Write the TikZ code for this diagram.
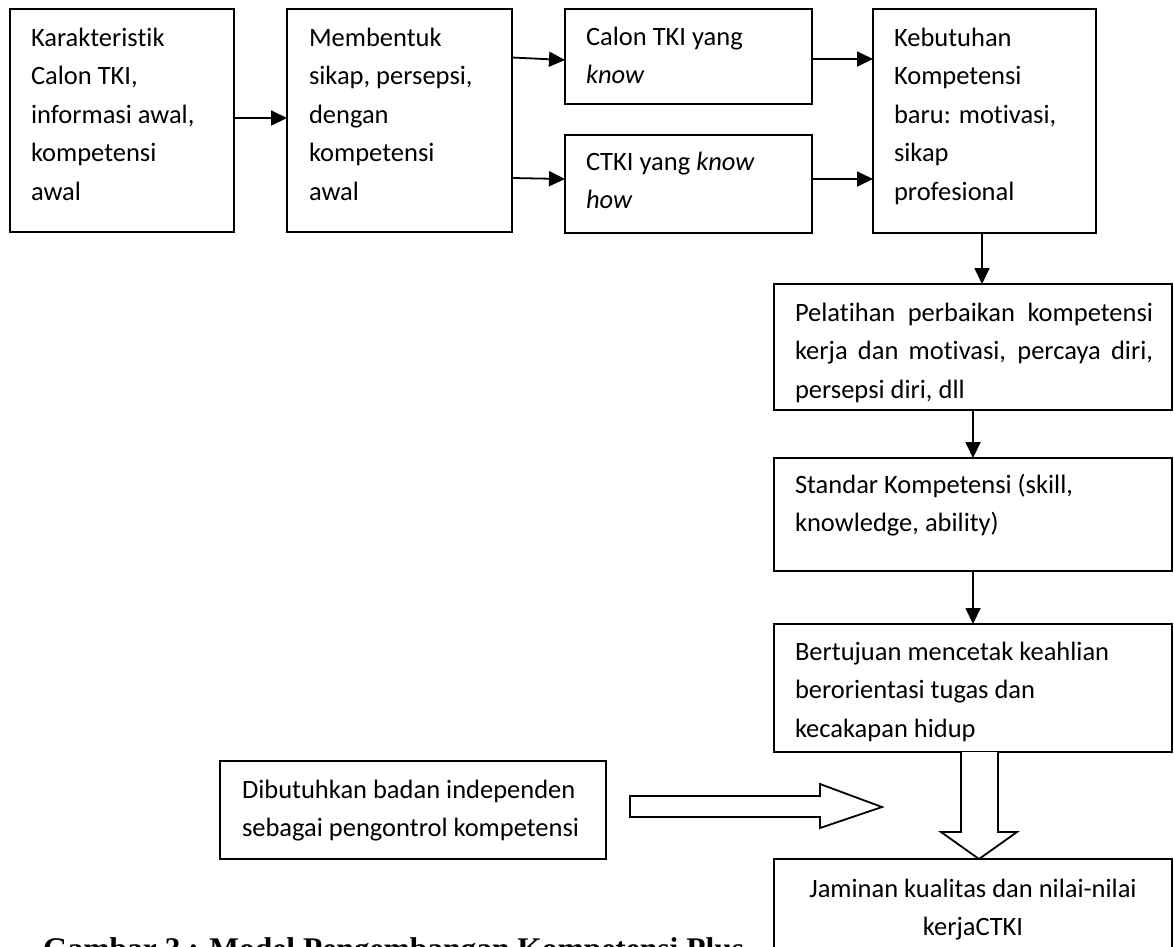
\documentclass[tikz,border=0pt]{standalone}
\usepackage{fontspec}
\setmainfont{Carlito}[Ligatures=NoCommon]
\newfontfamily\capfont{Liberation Serif}
\usetikzlibrary{arrows.meta,calc}
\begin{document}
\begin{tikzpicture}[x=1pt,y=-1pt,
  box/.style={draw, line width=1.8pt, anchor=north west, inner sep=0pt, outer sep=0pt},
  txt/.style={anchor=base west, inner sep=0pt, outer sep=0pt, align=left,
    font=\fontsize{26.5}{38.5}\selectfont},
  arr/.style={line width=1.8pt, -{Triangle[length=16pt,width=15pt]}},
  blk/.style={draw, line width=1.8pt, line join=miter, fill=white}]
\useasboundingbox (0,0) rectangle (1174,946);
\clip (0,0) rectangle (1174,946);
% boxes
\node[box, minimum width=224pt, minimum height=223pt] (b1) at (10,9) {};
\node[box, minimum width=225pt, minimum height=223pt] (b2) at (287,9) {};
\node[box, minimum width=247pt, minimum height=95pt]  (b3) at (565,9) {};
\node[box, minimum width=247pt, minimum height=98pt]  (b4) at (565,135) {};
\node[box, minimum width=223pt, minimum height=224pt] (b5) at (873,9) {};
\node[box, minimum width=398pt, minimum height=126pt] (b6) at (774,284) {};
\node[box, minimum width=398pt, minimum height=113pt] (b7) at (774,458) {};
\node[box, minimum width=398pt, minimum height=128pt] (b8) at (774,624) {};
\node[box, minimum width=398pt, minimum height=130pt] (b9) at (774,859) {};
\node[box, minimum width=386pt, minimum height=98pt]  (bd) at (220,761) {};
% texts (anchored at the baseline of the last line)
\node[txt] (t1) at ($(b1.north west)+(21,191)$) {Karakteristik\\Calon TKI,\\informasi awal,\\kompetensi\\awal};
\node[txt] (t2) at ($(b2.north west)+(22,191)$) {Membentuk\\sikap, persepsi,\\dengan\\kompetensi\\awal};
\node[txt] (t3) at ($(b3.north west)+(21,74.5)$) {Calon TKI yang\\\textit{know}};
\node[txt] (t4) at ($(b4.north west)+(21,73.5)$) {CTKI yang \textit{know}\\\textit{how}};
\node[txt] (t5) at ($(b5.north west)+(21,191)$) {Kebutuhan\\Kompetensi\\baru: motivasi,\\sikap\\profesional};
\node[txt] (t6) at ($(b6.north west)+(21,114)$) {\makebox[358pt][s]{Pelatihan perbaikan kompetensi}\\\makebox[358pt][s]{kerja dan motivasi, percaya diri,}\\persepsi diri, dll};
\node[txt] (t7) at ($(b7.north west)+(21,73.5)$) {Standar Kompetensi (skill,\\knowledge, ability)};
\node[txt] (t8) at ($(b8.north west)+(21,113)$) {Bertujuan mencetak keahlian\\berorientasi tugas dan\\kecakapan hidup};
\node[txt, anchor=base, align=center] (t9) at ($(b9.north)+(0,76.5)$) {Jaminan kualitas dan nilai-nilai\\kerjaCTKI};
\node[txt] (td) at ($(bd.north west)+(22,75.5)$) {Dibutuhkan badan independen\\sebagai pengontrol kompetensi};
% connectors
\draw[arr] ($(b1.north east)+(0,109)$) -- ($(b2.north west)+(0,109)$);
\draw[arr] ($(b2.north east)+(0,48.5)$) -- ($(b3.north west)+(0,51)$);
\draw[arr] ($(b2.north east)+(0,169)$) -- ($(b4.north west)+(0,44)$);
\draw[arr] ($(b3.north east)+(0,50)$) -- ($(b5.north west)+(0,50)$);
\draw[arr] ($(b4.north east)+(0,44)$) -- ($(b5.north west)+(0,170)$);
\draw[arr] ($(b5.south west)+(109,0)$) -- ($(b6.north west)+(208,0)$);
\draw[arr] (b6.south) -- (b7.north);
\draw[arr] (b7.south) -- (b8.north);
% block arrows
\coordinate (vt) at ($(b9.north west)+(205,0)$);
\draw[blk] ($(b8.south west)+(187,0)$) -- (961,832) -- (941,832) -- (vt) -- (1017,832) -- (998,832) -- ($(b8.south west)+(224,0)$);
\coordinate (ht) at (882,807);
\draw[blk] (630,796) -- (820,796) -- (820,784) -- (ht) -- (820,828) -- (820,817) -- (630,817) -- cycle;
% caption
\node[anchor=base west, inner sep=0pt, font=\capfont\bfseries\fontsize{31.5}{36}\selectfont] (cap) at (43,959) {Gambar 3 : Model Pengembangan Kompetensi Plus};
\end{tikzpicture}
\end{document}
